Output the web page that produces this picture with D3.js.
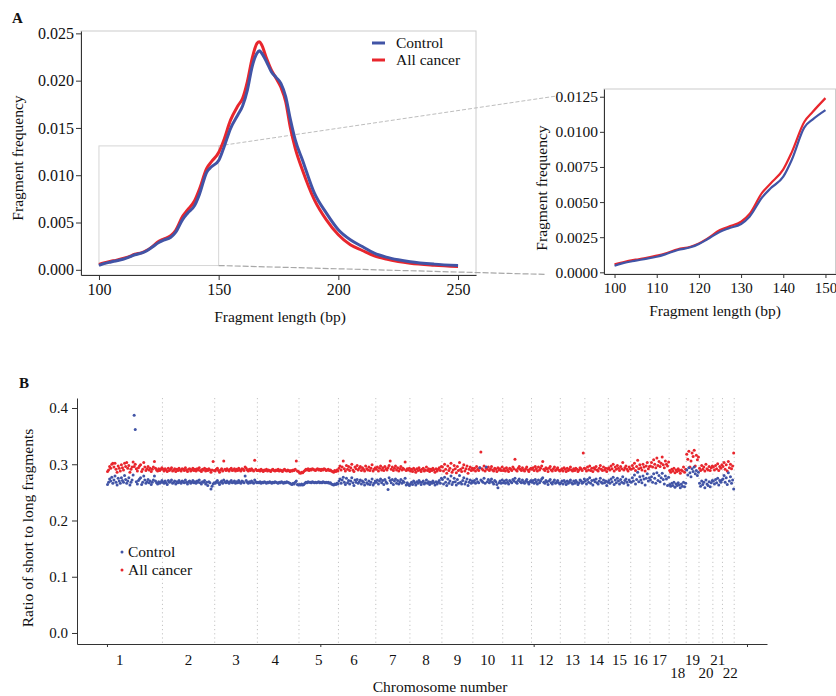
<!DOCTYPE html>
<html>
<head>
<meta charset="utf-8">
<script src="https://cdn.jsdelivr.net/npm/d3@7"></script>
<style>
  body { margin: 0; background: #fff; }
  svg text { font-family: "Liberation Serif", "Times New Roman", serif; fill: #111; }
</style>
</head>
<body>
<svg id="fig" width="836" height="696"></svg>
<script>
// ---------- Panel A: fragment length distribution ----------
const fragmentLength = [100,102,105,107,110,112,115,118,120,122,125,127,130,132,135,137,140,142,145,147,150,152,155,158,160,162,164,166,167,168,170,172,174,176,178,180,182,185,190,195,200,205,210,215,220,225,230,240,250];
const controlFreq = [0.00047,0.00065,0.00083,0.00094,0.00111,0.00128,0.00159,0.00178,0.00202,0.00235,0.00289,0.00313,0.00344,0.00396,0.00534,0.00598,0.00681,0.0080,0.01032,0.01089,0.01155,0.0128,0.01496,0.01637,0.01732,0.0190,0.02148,0.02289,0.02317,0.0229,0.0220,0.02095,0.02035,0.01972,0.0183,0.01585,0.01373,0.01162,0.0081,0.00599,0.00423,0.00317,0.00246,0.00176,0.00134,0.00106,0.00085,0.0006,0.00046];
const cancerFreq = [0.00057,0.00072,0.0009,0.001,0.00119,0.00134,0.00164,0.00182,0.00206,0.0024,0.00301,0.00325,0.0036,0.00415,0.00567,0.00633,0.00733,0.00854,0.01072,0.01143,0.0124,0.0136,0.01585,0.01732,0.01813,0.0199,0.02236,0.02394,0.02412,0.02377,0.02236,0.02113,0.02025,0.0193,0.01778,0.01496,0.01285,0.01056,0.0074,0.00528,0.0037,0.00264,0.00204,0.00148,0.00113,0.00088,0.0007,0.00049,0.00035];
const seriesNames = ["Control", "All cancer"];
const xTicksA = [100, 150, 200, 250];
const yTicksA = [0, 0.005, 0.010, 0.015, 0.020, 0.025];
const xTicksInset = [100, 110, 120, 130, 140, 150];
const yTicksInset = [0, 0.0025, 0.0050, 0.0075, 0.0100, 0.0125];

// ---------- Panel B: short/long ratio per genomic bin (ratio x 1000) ----------
const chromosomes = ["1","2","3","4","5","6","7","8","9","10","11","12","13","14","15","16","17","18","19","20","21","22"];
const controlRatio = [
  [264,268,274,270,277,266,272,279,268,263, 275,270,266,276,271,268,280,273,266,270, 276,263,268,272,281,387,362,269,265,271, 274,276,264,268,279,272,266,269,273,267, 270,264,268,272,279,270,267,265,269,266, 268,271],
  [268,266,270,267,264,271,268,269,272,266, 268,270,265,269,267,271,268,266,270,269, 267,272,268,265,269,270,266,268,271,267, 269,266,270,268,272,267,265,269,268,271, 265,268,262,269,267,256,261,265,267],
  [266,269,271,267,264,268,270,266,272,269, 267,270,268,266,269,271,267,268,270,266, 269,267,271,268,266,270,269,267,279,271, 268,266,269,267,270,268,266,272,269,267],
  [268,267,269,266,268,267,269,268,266,268, 267,269,268,266,268,267,269,268,267,266, 268,267,269,268,266,268,267,269,268,267, 266,265,264,266,265,268,270,264,263],
  [264,263,265,263,264,266,268,267,269,268, 268,267,269,268,267,268,267,268,269,267, 268,267,269,268,267,268,267,268,266,267, 265,264,263,265,264,266,265],
  [270,274,266,272,277,268,264,275,267,271, 265,270,276,267,262,272,268,273,266,269, 272,265,270,268,263,273,267,265,270,264, 268,274,263,266,270],
  [268,272,265,270,274,267,271,264,273,269, 266,255,276,271,267,273,264,270,274,266, 271,265,269,273,266,270,268,275,263,267, 264,262],
  [265,268,264,270,267,263,269,266,271,268, 264,268,270,265,267,272,266,269,264,268, 266,270,267,263,269,265,268,271,266,275],
  [273,265,277,268,262,274,266,270,279,264, 268,275,269,263,273,266,280,268,265,271, 276,265,269,274,262,268,272,266,270],
  [268,271,266,274,269,267,294,272,270,268, 275,266,295,269,273,267,270,274,268,265, 271,269,264,258,267,270,266,272],
  [267,270,266,272,268,265,271,269,267,273, 270,275,268,266,271,274,269,267,272,268, 266,270,273,268,265,269,271],
  [268,271,266,273,269,265,272,267,270,274, 276,268,266,271,269,264,270,273,267,265, 269,272,266,268,271,267,265],
  [267,270,265,271,268,264,270,266,269,272, 267,265,270,266,271,268,264,267,272,270, 266,268,274],
  [270,265,273,268,276,266,271,263,272,269, 274,267,265,270,275,268,266,272,267,270, 262,268],
  [271,266,274,269,277,264,272,267,275,270, 265,273,268,278,266,271,274,268,263,272,269],
  [268,276,270,281,265,273,286,269,278,272, 267,279,274,263,275,283,270,276],
  [272,278,268,283,275,266,285,271,280,269, 276,284,273,265,279,274,262,277],
  [264,261,266,262,268,259,265,262,267,263, 258,265,261,268,260,266],
  [290,281,294,285,278,292,287,295,283,289, 280,286],
  [266,261,270,264,268,258,272,265,262,269, 260,267,271],
  [270,265,273,267,275,263,271,268,272],
  [274,280,268,276,264,285,270,278,266,272, 256]
];
const cancerRatio = [
  [287,290,296,293,300,302,295,302,291,286, 297,293,288,299,294,290,302,296,303,293, 298,286,291,295,304,296,300,292,288,294, 297,299,287,291,303,295,289,292,296,290, 293,287,291,295,305,293,290,288,292,289, 291,294],
  [291,288,292,290,287,293,289,291,294,288, 290,292,287,291,289,293,290,288,292,291, 289,294,290,287,291,292,288,290,293,289, 291,288,292,290,294,289,287,291,290,293, 288,291,289,292,290,286,290,305,289],
  [288,291,293,289,286,290,292,288,306,291, 289,292,290,288,291,293,289,290,292,288, 291,289,293,290,288,292,291,289,295,293, 290,288,291,289,292,290,288,307,291,289],
  [289,290,288,291,289,287,290,289,291,288, 290,289,287,290,291,289,288,290,289,291, 288,290,289,287,290,291,289,288,290,289, 287,289,288,290,289,291,306,288,287],
  [285,284,286,285,287,289,291,290,292,289, 291,290,292,291,290,289,291,292,290,291, 289,291,290,292,291,289,290,291,289,290, 288,287,286,289,287,290,288],
  [293,297,290,295,306,292,288,298,291,296, 289,294,300,290,287,295,292,298,290,293, 296,289,294,291,288,297,292,290,295,289, 293,299,288,291,294],
  [291,295,288,293,297,290,294,289,296,292, 290,294,298,306,291,295,289,293,297,290, 294,288,292,296,290,293,291,304,289,292, 290,293],
  [288,291,287,293,290,286,292,289,294,290, 287,291,293,288,290,295,289,292,287,291, 289,293,290,286,292,288,291,294,289,296],
  [295,288,300,291,284,297,289,293,302,286, 290,298,292,285,296,289,303,291,287,294, 299,288,292,297,284,291,295,289,293],
  [290,293,288,296,291,289,294,322,292,290, 297,288,293,291,295,289,292,296,290,288, 293,291,287,294,290,292,289,295],
  [289,292,288,294,290,287,293,291,289,295, 292,309,290,288,293,296,291,289,294,290, 288,292,295,290,287,291,293],
  [291,294,289,296,292,288,295,290,293,297, 305,291,289,294,292,287,293,296,290,288, 292,295,289,291,294,290,288],
  [290,292,288,294,291,287,293,289,291,295, 290,288,292,289,293,291,287,290,294,292, 289,320,293],
  [292,288,295,290,297,289,293,287,294,291, 296,290,288,293,298,291,289,295,290,293, 287,292],
  [294,290,297,292,300,288,295,291,298,293, 289,296,292,303,290,294,297,291,288,295,292],
  [291,298,293,302,289,296,307,292,299,294, 290,300,295,288,297,303,292,296],
  [297,303,295,308,300,294,311,298,305,296, 302,313,299,294,306,300,297,304],
  [289,286,291,288,293,285,290,287,292,289, 284,290,288,295,286,291],
  [318,309,323,295,306,320,314,325,297,316, 308,313],
  [293,289,298,291,295,288,300,292,290,296, 289,294,297],
  [295,290,298,292,301,289,296,293,299],
  [296,303,291,299,288,305,294,300,292,297, 320]
];
const yTicksB = [0, 0.1, 0.2, 0.3, 0.4];
const genomeTicks = [0, 200, 400, 600];

// ---------- styling ----------
const colControl = "#4154a6";
const colCancer = "#e8262d";
const axisCol = "#333";
const svg = d3.select("#fig");

function styleAxis(g, fontSize) {
  g.selectAll(".domain").attr("stroke", axisCol).attr("stroke-width", 1);
  g.selectAll(".tick line").attr("stroke", axisCol);
  g.selectAll(".tick text").style("font-family", '"Liberation Serif", serif')
    .style("font-size", fontSize + "px").attr("fill", "#111");
}

// ================= Panel A (main) =================
const xA = d3.scaleLinear().domain([92.5, 257.5]).range([81, 476]);
const yA = d3.scaleLinear().domain([-0.00055, 0.02525]).range([275, 31]);

const freqControl = fragmentLength.map((x, i) => [x, controlFreq[i]]);
const freqCancer = fragmentLength.map((x, i) => [x, cancerFreq[i]]);

svg.append("text").attr("x", 12).attr("y", 23).text("A")
  .style("font-weight", "bold").style("font-size", "15px");

// panel frame
svg.append("rect").attr("x", 81).attr("y", 31).attr("width", 395).attr("height", 244)
  .attr("fill", "none").attr("stroke", "#cccccc").attr("stroke-width", 1);

// zoom region marker and guide lines to the inset
const zoomX = [100, 150], zoomY = [0.00045, 0.0131];
const zx0 = xA(zoomX[0]), zx1 = xA(zoomX[1]), zyTop = yA(zoomY[1]), zyBot = yA(zoomY[0]);
svg.append("rect").attr("x", zx0).attr("y", zyTop).attr("width", zx1 - zx0).attr("height", zyBot - zyTop)
  .attr("fill", "none").attr("stroke", "#d6d6d6").attr("stroke-width", 1);

function guide(x0, y0, x1, y1, xEnd, dash, w, col) {
  const t = (xEnd - x0) / (x1 - x0);
  svg.append("line").attr("x1", x0).attr("y1", y0)
    .attr("x2", xEnd).attr("y2", y0 + (y1 - y0) * t)
    .attr("stroke", col).attr("stroke-width", w).attr("stroke-dasharray", dash);
}
guide(zx1, zyTop, 604, 89, 556, "4,2", 0.9, "#b5b5b5");
guide(zx1, zyBot, 604, 276, 545, "6,2", 1.2, "#a8a8a8");

const lineA = d3.line().x(d => xA(d[0])).y(d => yA(d[1])).curve(d3.curveMonotoneX);
svg.append("path").datum(freqCancer).attr("d", lineA).attr("fill", "none")
  .attr("stroke", colCancer).attr("stroke-width", 3);
svg.append("path").datum(freqControl).attr("d", lineA).attr("fill", "none")
  .attr("stroke", colControl).attr("stroke-width", 3);

const axAy = svg.append("g").attr("transform", "translate(81,0)")
  .call(d3.axisLeft(yA).tickValues(yTicksA).tickFormat(d3.format(".3f")).tickSize(5).tickSizeOuter(0).tickPadding(2));
styleAxis(axAy, 16);
const axAx = svg.append("g").attr("transform", "translate(0,275)")
  .call(d3.axisBottom(xA).tickValues(xTicksA).tickFormat(d3.format("d")).tickSize(5).tickSizeOuter(0).tickPadding(4));
styleAxis(axAx, 16);

svg.append("text").attr("transform", "translate(23,158) rotate(-90)").attr("text-anchor", "middle")
  .style("font-size", "15.5px").text("Fragment frequency");
svg.append("text").attr("x", 280).attr("y", 322).attr("text-anchor", "middle")
  .style("font-size", "15.5px").text("Fragment length (bp)");

// legend
const legA = svg.append("g");
[[colControl, seriesNames[0], 43], [colCancer, seriesNames[1], 60]].forEach(([c, t, y]) => {
  legA.append("line").attr("x1", 372).attr("x2", 385).attr("y1", y).attr("y2", y)
    .attr("stroke", c).attr("stroke-width", 3);
  legA.append("text").attr("x", 396).attr("y", y).attr("dy", "0.35em")
    .style("font-size", "15.5px").text(t);
});

// ================= Panel A (inset, 100-150 bp) =================
const xI = d3.scaleLinear().domain([97.5, 152.5]).range([604, 836]);
const yI = d3.scaleLinear().domain([-0.00012, 0.01305]).range([274, 89]);
svg.append("rect").attr("x", 604).attr("y", 89).attr("width", 231.5).attr("height", 185)
  .attr("fill", "#fff").attr("stroke", "#cccccc").attr("stroke-width", 1);

const inRange = d => d[0] >= 100 && d[0] <= 150;
const lineI = d3.line().x(d => xI(d[0])).y(d => yI(d[1])).curve(d3.curveMonotoneX);
svg.append("path").datum(freqCancer.filter(inRange)).attr("d", lineI).attr("fill", "none")
  .attr("stroke", colCancer).attr("stroke-width", 2.2);
svg.append("path").datum(freqControl.filter(inRange)).attr("d", lineI).attr("fill", "none")
  .attr("stroke", colControl).attr("stroke-width", 2.2);

const axIy = svg.append("g").attr("transform", "translate(604,0)")
  .call(d3.axisLeft(yI).tickValues(yTicksInset).tickFormat(d3.format(".4f")).tickSize(4).tickSizeOuter(0).tickPadding(2));
styleAxis(axIy, 15.5);
const axIx = svg.append("g").attr("transform", "translate(0,274)")
  .call(d3.axisBottom(xI).tickValues(xTicksInset).tickFormat(d3.format("d")).tickSize(4).tickSizeOuter(0).tickPadding(4));
styleAxis(axIx, 15);

svg.append("text").attr("transform", "translate(547,188) rotate(-90)").attr("text-anchor", "middle")
  .style("font-size", "15.5px").text("Fragment frequency");
svg.append("text").attr("x", 715).attr("y", 316).attr("text-anchor", "middle")
  .style("font-size", "15.5px").text("Fragment length (bp)");

// ================= Panel B =================
const xB = d3.scaleLinear().domain([-28.1, 618.75]).range([77, 767]);
const yB = d3.scaleLinear().domain([-0.0196, 0.4178]).range([644, 398]);

svg.append("text").attr("x", 19).attr("y", 388).text("B")
  .style("font-weight", "bold").style("font-size", "15px");

// genomic bin layout derived from the per-chromosome arrays
let offset = 0;
const bounds = [], centers = [], pointsControl = [], pointsCancer = [];
chromosomes.forEach((chr, k) => {
  const n = cancerRatio[k].length;
  cancerRatio[k].forEach((v, i) => pointsCancer.push([offset + i + 0.5, v / 1000]));
  controlRatio[k].forEach((v, i) => pointsControl.push([offset + i + 0.5, v / 1000]));
  centers.push(offset + n / 2);
  offset += n;
  bounds.push(offset);
});

svg.append("g").selectAll("line").data(bounds).join("line")
  .attr("x1", d => xB(d)).attr("x2", d => xB(d)).attr("y1", 398).attr("y2", 643)
  .attr("stroke", "#c4c4c4").attr("stroke-width", 1).attr("stroke-dasharray", "1.2,3");

svg.append("g").selectAll("circle").data(pointsCancer).join("circle")
  .attr("cx", d => xB(d[0])).attr("cy", d => yB(d[1])).attr("r", 1.5).attr("fill", colCancer);
svg.append("g").selectAll("circle").data(pointsControl).join("circle")
  .attr("cx", d => xB(d[0])).attr("cy", d => yB(d[1])).attr("r", 1.5).attr("fill", colControl);

const axBy = svg.append("g").attr("transform", "translate(77,0)")
  .call(d3.axisLeft(yB).tickValues(yTicksB).tickFormat(d3.format(".1f")).tickSize(5).tickSizeOuter(0).tickPadding(4));
styleAxis(axBy, 15);
const axBx = svg.append("g").attr("transform", "translate(0,644)")
  .call(d3.axisBottom(xB).tickValues(genomeTicks).tickFormat("").tickSize(3).tickSizeOuter(0));
styleAxis(axBx, 15);

// chromosome labels; the small ones alternate onto a second row
const lowerRow = new Set(["18", "20", "22"]);
const labelNudge = { "1": -15, "4": -3, "6": -3, "22": 2 };
svg.append("g").selectAll("text").data(chromosomes).join("text")
  .attr("x", (d, i) => xB(centers[i]) + (labelNudge[d] || 0))
  .attr("y", d => lowerRow.has(d) ? 678 : 665)
  .attr("text-anchor", "middle").style("font-size", "15px").text(d => d);

svg.append("text").attr("transform", "translate(33,528) rotate(-90)").attr("text-anchor", "middle")
  .style("font-size", "15.5px").text("Ratio of short to long fragments");
svg.append("text").attr("x", 440).attr("y", 692).attr("text-anchor", "middle")
  .style("font-size", "15.5px").text("Chromosome number");

const legB = svg.append("g");
[[colControl, seriesNames[0], 552], [colCancer, seriesNames[1], 570]].forEach(([c, t, y]) => {
  legB.append("circle").attr("cx", 122).attr("cy", y).attr("r", 1.5).attr("fill", c);
  legB.append("text").attr("x", 128).attr("y", y).attr("dy", "0.35em")
    .style("font-size", "15.5px").text(t);
});
</script>
</body>
</html>
